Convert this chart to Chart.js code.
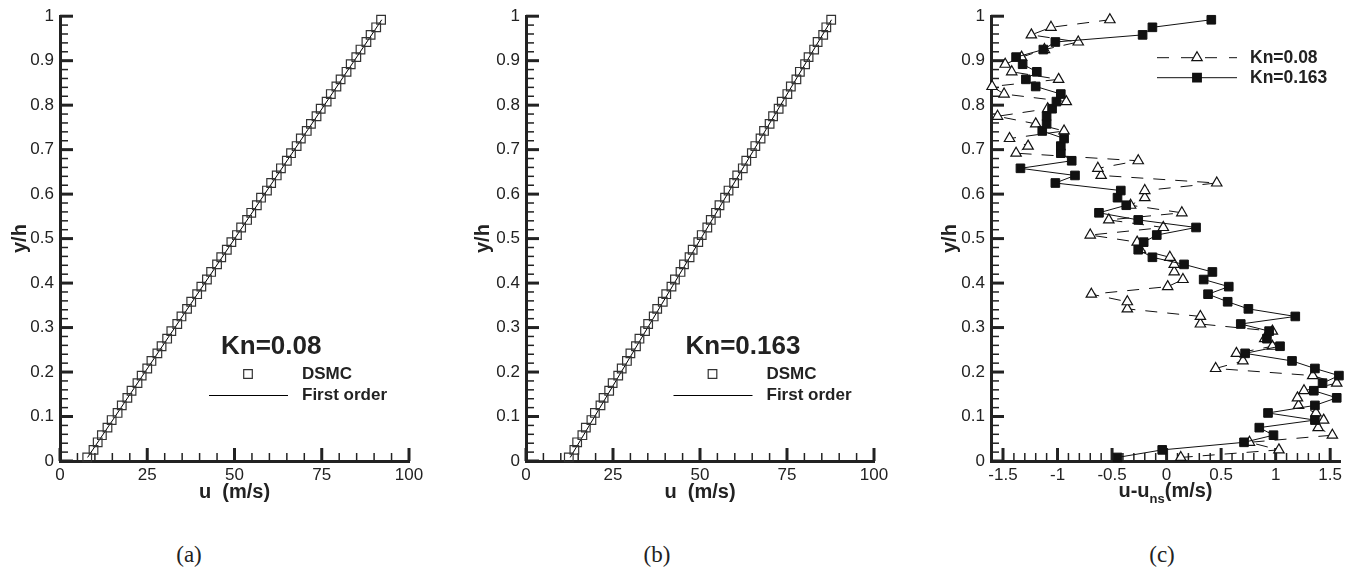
<!DOCTYPE html>
<html>
<head>
<meta charset="utf-8">
<script src="https://cdn.jsdelivr.net/npm/chart.js@4"></script>
<style>
body { margin: 0; background: #fff; width: 1362px; height: 574px; overflow: hidden; position: relative; }
canvas { position: absolute; top: 0; }
.cap { position: absolute; top: 541px; width: 80px; text-align: center; font-family: 'Liberation Serif', 'Times New Roman', serif; font-size: 23px; line-height: 28px; color: #222; }
</style>
</head>
<body>
<canvas id="chartA" width="440" height="520" style="left:0"></canvas>
<canvas id="chartB" width="440" height="520" style="left:460px"></canvas>
<canvas id="chartC" width="442" height="520" style="left:920px"></canvas>
<div class="cap" style="left:149px">(a)</div>
<div class="cap" style="left:617px">(b)</div>
<div class="cap" style="left:1122px">(c)</div>
<script>
// y/h of the 60 DSMC cells (same for every series)
const yh = [0.008, 0.025, 0.042, 0.058, 0.075, 0.092, 0.108, 0.125, 0.142, 0.158,
  0.175, 0.192, 0.208, 0.225, 0.242, 0.258, 0.275, 0.292, 0.308, 0.325,
  0.342, 0.358, 0.375, 0.392, 0.408, 0.425, 0.442, 0.458, 0.475, 0.492,
  0.508, 0.525, 0.542, 0.558, 0.575, 0.592, 0.608, 0.625, 0.642, 0.658,
  0.675, 0.692, 0.708, 0.725, 0.742, 0.758, 0.775, 0.792, 0.808, 0.825,
  0.842, 0.858, 0.875, 0.892, 0.908, 0.925, 0.942, 0.958, 0.975, 0.992];

// (a) Kn=0.08, u (m/s)
const uDsmcA = [7.8, 9.6, 10.8, 12.0, 13.6, 14.8, 16.5, 17.7, 19.3, 20.5,
  22.2, 23.4, 25.0, 26.2, 27.9, 29.1, 30.7, 31.9, 33.6, 34.8,
  36.4, 37.6, 39.3, 40.5, 42.1, 43.3, 45.0, 46.2, 47.8, 49.1,
  50.7, 51.9, 53.6, 54.8, 56.4, 57.6, 59.3, 60.5, 62.1, 63.3,
  65.0, 66.2, 67.8, 69.0, 70.7, 71.9, 73.5, 74.7, 76.4, 77.6,
  79.2, 80.4, 82.1, 83.3, 84.9, 86.1, 87.8, 89.0, 90.6, 92.0];
const uFirstA = [7.9, 92.2];

// (b) Kn=0.163, u (m/s)
const uDsmcB = [12.3, 13.9, 14.7, 16.2, 17.2, 18.8, 19.8, 21.4, 22.3, 23.9,
  24.9, 26.5, 27.5, 29.0, 30.0, 31.6, 32.6, 34.2, 35.1, 36.7,
  37.7, 39.3, 40.3, 41.8, 42.8, 44.4, 45.4, 47.0, 47.9, 49.5,
  50.5, 52.1, 53.1, 54.6, 55.6, 57.2, 58.2, 59.8, 60.7, 62.3,
  63.3, 64.9, 65.9, 67.4, 68.4, 70.0, 71.0, 72.6, 73.5, 75.1,
  76.1, 77.7, 78.7, 80.2, 81.2, 82.8, 83.8, 85.4, 86.3, 87.7];
const uFirstB = [12.7, 87.8];
const yFirst = [0.008, 0.992];

// (c) u - u_ns (m/s)
const dKn008 = [0.13, 1.03, 0.76, 1.52, 1.39, 1.44, 1.37, 1.21, 1.20, 1.26,
  1.56, 1.34, 0.45, 0.70, 0.64, 0.97, 0.90, 0.97, 0.31, 0.31,
  -0.36, -0.36, -0.69, 0.01, 0.15, 0.07, 0.07, 0.03, -0.24, -0.27,
  -0.70, -0.03, -0.53, 0.14, -0.33, -0.20, -0.20, 0.46, -0.60, -0.63,
  -0.26, -1.38, -1.27, -1.44, -0.94, -1.20, -1.55, -1.09, -0.92, -1.49,
  -1.60, -0.99, -1.42, -1.48, -1.33, -1.12, -0.81, -1.24, -1.06, -0.52];
const dKn0163 = [-0.45, -0.04, 0.71, 0.98, 0.85, 1.36, 0.93, 1.36, 1.56, 1.35,
  1.43, 1.58, 1.36, 1.15, 0.72, 1.04, 0.92, 0.94, 0.68, 1.18,
  0.75, 0.56, 0.38, 0.57, 0.34, 0.42, 0.16, -0.13, -0.26, -0.21,
  -0.09, 0.27, -0.26, -0.62, -0.37, -0.45, -0.42, -1.02, -0.84, -1.34,
  -0.87, -0.97, -0.97, -0.94, -1.14, -1.10, -1.10, -1.05, -1.01, -0.97,
  -1.20, -1.29, -1.19, -1.32, -1.38, -1.13, -1.02, -0.22, -0.13, 0.41];

const uTicks = [0, 25, 50, 75, 100];
const dTicks = [-1.5, -1, -0.5, 0, 0.5, 1, 1.5];
const yTicks = [0, 0.1, 0.2, 0.3, 0.4, 0.5, 0.6, 0.7, 0.8, 0.9, 1];

const FONT = "'Liberation Sans', Arial, Helvetica, sans-serif";
const INK = '#222';

function pts(xs, ys) {
    return xs.map((x, i) => ({ x: x, y: ys[i] }));
}

function fmt(v) {
    return String(Math.round(v * 100) / 100);
}

function makeScales(xMin, xMax, xTicks, xTitle, yWidth, yTitlePad) {
    return {
        x: {
            type: 'linear', min: xMin, max: xMax,
            afterBuildTicks: s => { s.ticks = xTicks.map(v => ({ value: v })); },
            afterFit: s => { s.height = 59; },
            grid: { display: false, drawTicks: false },
            border: { display: true, width: 3, color: INK },
            ticks: { padding: 4, color: INK, font: { family: FONT, size: 17 }, callback: v => fmt(v) },
            title: xTitle
                ? { display: true, text: xTitle, color: INK, font: { family: FONT, size: 20, weight: 'bold' }, padding: { top: 0, bottom: 16 } }
                : { display: false }
        },
        y: {
            type: 'linear', min: 0, max: 1,
            afterBuildTicks: s => { s.ticks = yTicks.map(v => ({ value: v })); },
            afterFit: s => { s.width = yWidth; },
            grid: { display: false, drawTicks: false },
            border: { display: true, width: 3, color: INK },
            ticks: { padding: 6, color: INK, font: { family: FONT, size: 17 }, callback: v => fmt(v) },
            title: { display: true, text: 'y/h', color: INK, font: { family: FONT, size: 20, weight: 'bold' }, padding: { top: yTitlePad, bottom: 0 } }
        }
    };
}

// ticks pointing into the plot, major + minor
function inwardTicks(xFrom, xTo, xMinor, xEvery) {
    return {
        id: 'inwardTicks',
        beforeDatasetsDraw(chart) {
            const ctx = chart.ctx, area = chart.chartArea;
            const xs = chart.scales.x, ys = chart.scales.y;
            ctx.save();
            ctx.strokeStyle = INK;
            for (let k = 0; k <= 50; k++) {
                const py = ys.getPixelForValue(k / 50);
                const major = k % 5 === 0;
                ctx.lineWidth = major ? 3 : 1.5;
                ctx.beginPath();
                ctx.moveTo(area.left, py);
                ctx.lineTo(area.left + (major ? 13 : 8), py);
                ctx.stroke();
            }
            for (let k = xFrom; k <= xTo; k++) {
                const px = xs.getPixelForValue(k * xMinor);
                const major = k % xEvery === 0;
                ctx.lineWidth = major ? 3 : 1.5;
                ctx.beginPath();
                ctx.moveTo(px, area.bottom);
                ctx.lineTo(px, area.bottom - (major ? 13 : 8));
                ctx.stroke();
            }
            ctx.restore();
        }
    };
}

function squareAt(ctx, x, y, side, fill) {
    ctx.beginPath();
    ctx.rect(x - side / 2, y - side / 2, side, side);
    if (fill) ctx.fill();
    ctx.stroke();
}

function triangleAt(ctx, x, y, r) {
    ctx.beginPath();
    ctx.moveTo(x, y - r);
    ctx.lineTo(x + r * 0.866, y + r / 2);
    ctx.lineTo(x - r * 0.866, y + r / 2);
    ctx.closePath();
    ctx.fill();
    ctx.stroke();
}

// Kn label + DSMC / First order key for panels a and b
function velocityKey(kn, dx) {
    return {
        id: 'velocityKey',
        afterDraw(chart) {
            const ctx = chart.ctx;
            ctx.save();
            ctx.fillStyle = INK;
            ctx.textBaseline = 'middle';
            ctx.textAlign = 'left';
            ctx.font = 'bold 26px ' + FONT;
            ctx.fillText(kn, 221 + dx, 347);
            ctx.font = 'bold 17px ' + FONT;
            ctx.fillText('DSMC', 302 + dx, 374);
            ctx.fillText('First order', 302 + dx, 395.5);
            ctx.strokeStyle = '#333';
            ctx.lineWidth = 1.2;
            squareAt(ctx, 248 + dx, 374, 8.6, false);
            ctx.strokeStyle = '#000';
            ctx.lineWidth = 1;
            ctx.beginPath();
            ctx.moveTo(209 + dx, 395.5);
            ctx.lineTo(288 + dx, 395.5);
            ctx.stroke();
            ctx.restore();
        }
    };
}

function velocityChart(id, uDsmc, uFirst, kn, dx, yWidth, yPad, padRight) {
    new Chart(document.getElementById(id), {
        type: 'scatter',
        data: {
            datasets: [{
                label: 'DSMC',
                data: pts(uDsmc, yh),
                pointStyle: 'rect',
                pointRadius: 6.1,
                pointBorderWidth: 1.2,
                pointBorderColor: '#333',
                pointBackgroundColor: 'rgba(0,0,0,0)',
                showLine: false,
                clip: false
            }, {
                label: 'First order',
                data: pts(uFirst, yFirst),
                showLine: true,
                borderColor: '#000',
                borderWidth: 1,
                pointRadius: 0,
                tension: 0,
                clip: false
            }]
        },
        options: {
            responsive: false,
            animation: false,
            devicePixelRatio: 1,
            layout: { padding: { top: 13, right: padRight, left: 0, bottom: 0 } },
            plugins: { legend: { display: false }, tooltip: { enabled: false } },
            scales: makeScales(0, 100, uTicks, 'u  (m/s)', yWidth, yPad)
        },
        plugins: [inwardTicks(0, 20, 5, 5), velocityKey(kn, dx)]
    });
}

velocityChart('chartA', uDsmcA, uFirstA, 'Kn=0.08', 0, 60, 8.5, 31);
velocityChart('chartB', uDsmcB, uFirstB, 'Kn=0.163', 4.5, 66, 11.3, 26);

// panel c: key + x title with subscript
const diffKey = {
    id: 'diffKey',
    afterDraw(chart) {
        const ctx = chart.ctx, area = chart.chartArea;
        ctx.save();
        ctx.strokeStyle = '#111';
        ctx.lineWidth = 1;
        ctx.setLineDash([12, 12]);
        ctx.beginPath();
        ctx.moveTo(237, 57.7);
        ctx.lineTo(317, 57.7);
        ctx.stroke();
        ctx.setLineDash([]);
        ctx.beginPath();
        ctx.moveTo(237, 77.7);
        ctx.lineTo(317, 77.7);
        ctx.stroke();
        ctx.fillStyle = '#fff';
        ctx.lineWidth = 1.2;
        triangleAt(ctx, 277, 57.7, 6);
        ctx.fillStyle = '#111';
        squareAt(ctx, 277, 77.7, 8.6, true);

        ctx.fillStyle = INK;
        ctx.textBaseline = 'middle';
        ctx.textAlign = 'left';
        ctx.font = 'bold 17.5px ' + FONT;
        ctx.fillText('Kn=0.08', 330, 57.7);
        ctx.fillText('Kn=0.163', 330, 77.7);

        const big = 'bold 20px ' + FONT, small = 'bold 13px ' + FONT;
        ctx.font = big;
        const w1 = ctx.measureText('u-u').width;
        const w3 = ctx.measureText('(m/s)').width;
        ctx.font = small;
        const w2 = ctx.measureText('ns').width;
        let x = (area.left + area.right) / 2 - (w1 + w2 + w3) / 2;
        ctx.font = big;
        ctx.fillText('u-u', x, 491);
        ctx.font = small;
        ctx.fillText('ns', x + w1, 499);
        ctx.font = big;
        ctx.fillText('(m/s)', x + w1 + w2, 491);
        ctx.restore();
    }
};

new Chart(document.getElementById('chartC'), {
    type: 'scatter',
    data: {
        datasets: [{
            label: 'Kn=0.163',
            data: pts(dKn0163, yh),
            showLine: true,
            borderColor: '#111',
            borderWidth: 1,
            tension: 0,
            pointStyle: 'rect',
            pointRadius: 6.1,
            pointBorderWidth: 1,
            pointBorderColor: '#111',
            pointBackgroundColor: '#111',
            clip: false
        }, {
            label: 'Kn=0.08',
            data: pts(dKn008, yh),
            showLine: true,
            borderColor: '#111',
            borderWidth: 1,
            borderDash: [12, 10],
            tension: 0,
            pointStyle: 'triangle',
            pointRadius: 6,
            pointBorderWidth: 1.2,
            pointBorderColor: '#111',
            pointBackgroundColor: '#fff',
            clip: false
        }]
    },
    options: {
        responsive: false,
        animation: false,
        devicePixelRatio: 1,
        layout: { padding: { top: 13, right: 22, left: 0, bottom: 0 } },
        plugins: { legend: { display: false }, tooltip: { enabled: false } },
        scales: makeScales(-1.61, 1.59, dTicks, null, 71, 18)
    },
    plugins: [inwardTicks(-16, 15, 0.1, 5), diffKey]
});
</script>
</body>
</html>
